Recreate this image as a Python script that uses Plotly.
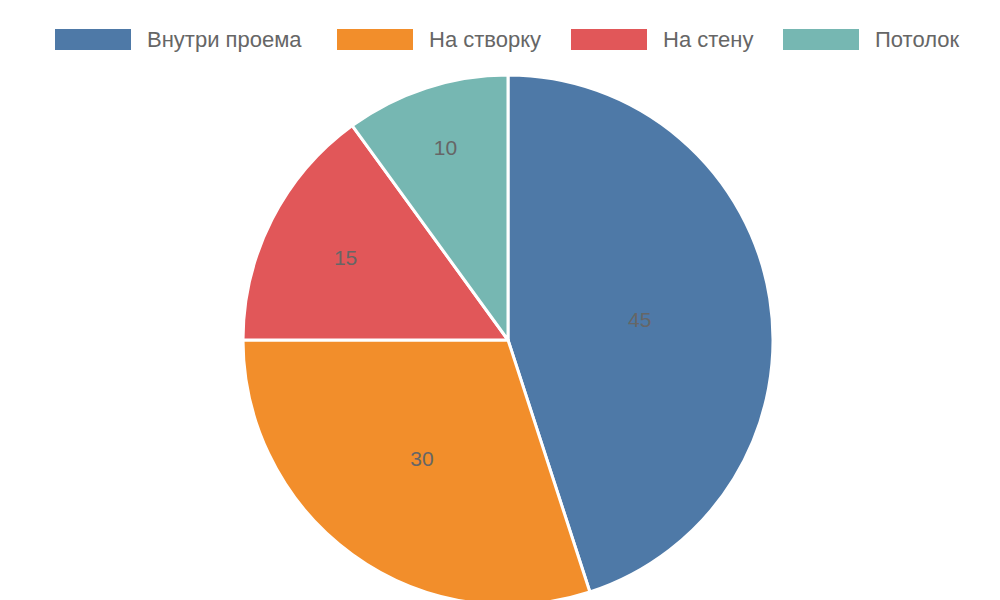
import plotly.graph_objects as go

labels = ["Внутри проема", "На створку", "На стену", "Потолок"]
values = [45, 30, 15, 10]
colors = ["#4e79a7", "#f28e2b", "#e15759", "#76b7b2"]

W, H = 1000, 600
fig = go.Figure(go.Pie(
    labels=labels, values=values, sort=False, direction="clockwise", rotation=0,
    marker=dict(colors=colors, line=dict(color="white", width=3)),
    textinfo="value", textposition="inside", insidetextorientation="horizontal",
    textfont=dict(color="#666666", size=21, family="Liberation Sans"),
    domain=dict(x=[235/W, 765/W], y=[1-597/H, 1-67/H]),
    showlegend=False, hoverinfo="label+value",
))

leg_x = [47, 329, 563, 775]
shapes, anns = [], []
for x, lab, c in zip(leg_x, labels, colors):
    shapes.append(dict(type="rect", xref="paper", yref="paper",
                       x0=x/W, x1=(x+76)/W, y0=1-42/H, y1=1-21/H,
                       fillcolor=c, line=dict(width=0)))
    anns.append(dict(xref="paper", yref="paper", x=(x+90)/W, y=1-31.5/H,
                     xanchor="left", yanchor="middle", text=lab, showarrow=False,
                     font=dict(size=22, color="#666666", family="Liberation Sans")))

fig.update_layout(width=W, height=H, margin=dict(l=0, r=0, t=0, b=0),
                  paper_bgcolor="white", plot_bgcolor="white",
                  shapes=shapes, annotations=anns)
fig.write_html("out.html")
